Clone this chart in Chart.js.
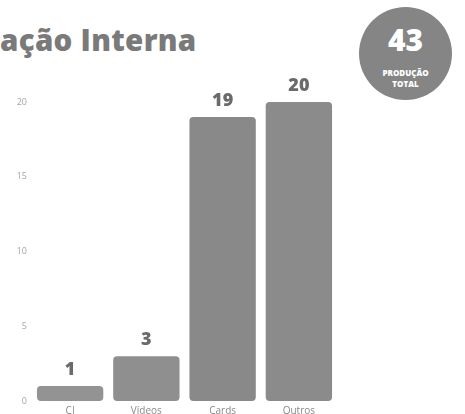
<!DOCTYPE html>
<html>
<head>
<meta charset="utf-8">
<script src="https://cdn.jsdelivr.net/npm/chart.js@4"></script>
<style>
  html, body { margin: 0; padding: 0; background: #fff; overflow: hidden; }
  body { width: 465px; height: 414px; position: relative; font-family: 'Open Sans', sans-serif; }
  #title {
    position: absolute; left: 0; top: 25px;
    font-size: 29.5px; font-weight: 800; color: #7a7a7a; white-space: nowrap; line-height: 1;
    letter-spacing: 0.3px;
  }
  #badge {
    position: absolute; left: 359px; top: 7px; width: 93px; height: 93px;
    border-radius: 50%; background: #858585; color: #fff; text-align: center;
  }
  #badge .num { position: absolute; left: 0; right: 0; top: 18px; font-size: 30px; font-weight: 800; line-height: 1; }
  #badge .lbl { position: absolute; left: 0; right: 0; top: 60px; font-size: 8px; font-weight: 800; line-height: 11px; }
  #wrap { position: absolute; left: 0; top: 70px; width: 345px; height: 351px; }
</style>
</head>
<body>
<div id="title">ação Interna</div>
<div id="badge"><div class="num">43</div><div class="lbl">PRODUÇÃO<br>TOTAL</div></div>
<div id="wrap"><canvas id="chart"></canvas></div>
<script>
// Produção interna por tipo
const categories = ['CI', 'Vídeos', 'Cards', 'Outros'];
const counts = [1, 3, 19, 20];
const yTicks = [0, 5, 10, 15, 20];

const barColors = ['#939393', '#8f8f8f', '#898989', '#8b8b8b'];

// draws the number above every bar
const valueLabels = {
    id: 'valueLabels',
    afterDatasetsDraw(chart) {
        const ctx = chart.ctx;
        const meta = chart.getDatasetMeta(0);
        ctx.save();
        ctx.font = '800 18px "Open Sans"';
        ctx.fillStyle = '#6a6a6a';
        ctx.textAlign = 'center';
        ctx.textBaseline = 'bottom';
        meta.data.forEach((bar, i) => {
            ctx.fillText(counts[i], bar.x, bar.y - 7);
        });
        ctx.restore();
    }
};

const ctx = document.getElementById('chart').getContext('2d');
new Chart(ctx, {
    type: 'bar',
    data: {
        labels: categories,
        datasets: [{
            data: counts,
            backgroundColor: barColors,
            borderRadius: 4,
            borderSkipped: false,
            categoryPercentage: 1,
            barPercentage: 0.87
        }]
    },
    options: {
        responsive: true,
        maintainAspectRatio: false,
        animation: false,
        layout: { padding: { top: 32, right: 8, bottom: 0, left: 0 } },
        plugins: { legend: { display: false }, tooltip: { enabled: false } },
        scales: {
            x: {
                grid: { display: false, drawTicks: false },
                border: { display: false },
                ticks: { color: '#8a8a8a', font: { family: 'Open Sans', size: 10 }, padding: 4 }
            },
            y: {
                min: 0,
                max: 20,
                afterFit: s => { s.width = 32; },
                afterBuildTicks: s => { s.ticks = yTicks.map(v => ({ value: v })); },
                grid: { display: false, drawTicks: false },
                border: { display: false },
                ticks: { color: '#a5a5a5', font: { family: 'Open Sans', size: 9 }, padding: 5 }
            }
        }
    },
    plugins: [valueLabels]
});
</script>
</body>
</html>
